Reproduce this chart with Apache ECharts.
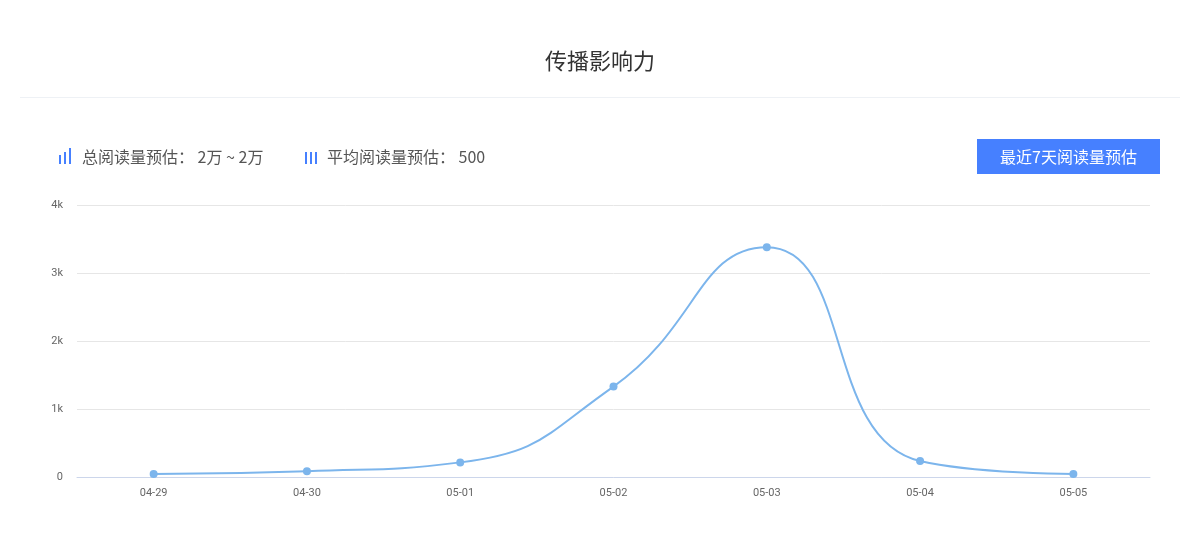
<!DOCTYPE html>
<html><head><meta charset="utf-8">
<script src="https://cdn.jsdelivr.net/npm/echarts@6/dist/echarts.min.js"></script>
<style>html,body{margin:0;padding:0;background:#fff}#c{width:1200px;height:555px}</style>
</head><body><div id="c"></div>
<script>
const categories = ['04-29','04-30','05-01','05-02','05-03','05-04','05-05'];
const reads = [45, 85, 215, 1330, 3380, 235, 45];
const titleText = '传播影响力';
const totalLabel = '总阅读量预估： 2万 ~ 2万';
const avgLabel = '平均阅读量预估： 500';
const buttonLabel = '最近7天阅读量预估';
const FONT = '"Noto Sans CJK SC", "Noto Sans", sans-serif';
const chart = echarts.init(document.getElementById('c'));
chart.setOption({
  animation: false,
  title: {text: titleText, left: 'center', top: 45, textStyle: {fontFamily: FONT, fontSize: 22, fontWeight: 'normal', color: '#333'}},
  grid: {left: 77, right: 50, top: 205, bottom: 78, containLabel: false},
  xAxis: {type: 'category', data: categories, boundaryGap: true,
    axisLine: {lineStyle: {color: '#ccd6eb'}}, axisTick: {show: false},
    axisLabel: {color: '#666', fontSize: 11, margin: 11, fontFamily: 'Roboto, sans-serif'}},
  yAxis: {type: 'value', min: 0, max: 4000, interval: 1000,
    axisLine: {show: false}, axisTick: {show: false},
    splitLine: {lineStyle: {color: '#e6e6e6'}},
    axisLabel: {color: '#666', fontSize: 11, margin: 14, fontFamily: 'Roboto, sans-serif',
      formatter: v => v === 0 ? '0' : (v/1000) + 'k'}},
  series: [{type: 'line', data: reads, smooth: true, symbol: 'circle', symbolSize: 8,
    lineStyle: {color: '#7cb5ec', width: 2}, itemStyle: {color: '#7cb5ec'}}],
  graphic: [
    {type: 'rect', shape: {x: 20, y: 97, width: 1160, height: 1}, style: {fill: '#eef1f5'}},
    {type: 'rect', shape: {x: 59, y: 155, width: 2, height: 9}, style: {fill: '#4680ff'}},
    {type: 'rect', shape: {x: 64, y: 152, width: 2, height: 12}, style: {fill: '#4680ff'}},
    {type: 'rect', shape: {x: 69, y: 148, width: 2, height: 16}, style: {fill: '#4680ff'}},
    {type: 'text', left: 82, top: 149, style: {text: totalLabel, fontFamily: FONT, fontSize: 16, fill: '#555'}},
    {type: 'rect', shape: {x: 305, y: 152, width: 2, height: 12}, style: {fill: '#4680ff'}},
    {type: 'rect', shape: {x: 310, y: 152, width: 2, height: 12}, style: {fill: '#4680ff'}},
    {type: 'rect', shape: {x: 315, y: 152, width: 2, height: 12}, style: {fill: '#4680ff'}},
    {type: 'text', left: 327, top: 149, style: {text: avgLabel, fontFamily: FONT, fontSize: 16, fill: '#555'}},
    {type: 'rect', shape: {x: 977, y: 139, width: 183, height: 35}, style: {fill: '#4680ff'}},
    {type: 'text', x: 1068.5, y: 157, style: {text: buttonLabel, fontFamily: FONT, fontSize: 16, fill: '#fff', align: 'center', verticalAlign: 'middle'}}
  ]
});
</script></body></html>
